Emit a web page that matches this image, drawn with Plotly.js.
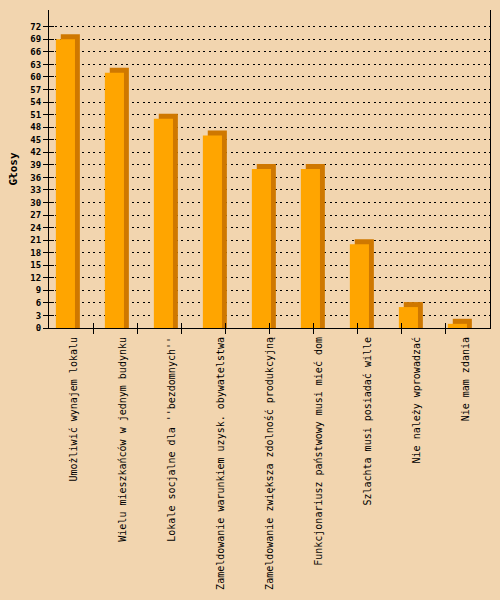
<!DOCTYPE html>
<html>
<head>
<meta charset="utf-8">
<script src="https://cdn.plot.ly/plotly-3.0.1.min.js"></script>
<style>html,body{margin:0;padding:0;background:#F2D5AF;}#chart{width:500px;height:600px;}</style>
</head>
<body>
<div id="chart"></div>
<script>
var categories = [
  "Umożliwić wynajem lokalu",
  "Wielu mieszkańców w jednym budynku",
  "Lokale socjalne dla ''bezdomnych''",
  "Zameldowanie warunkiem uzysk. obywatelstwa",
  "Zameldowanie zwiększa zdolność produkcyjną",
  "Funkcjonariusz państwowy musi mieć dom",
  "Szlachta musi posiadać wille",
  "Nie należy wprowadzać",
  "Nie mam zdania"
];
var votes = [69, 61, 50, 46, 38, 38, 20, 5, 1];
var yTicks = [0,3,6,9,12,15,18,21,24,27,30,33,36,39,42,45,48,51,54,57,60,63,66,69,72];
var yTitle = "Głosy";

var mono = "DejaVu Sans Mono, monospace";
var depth = 1.2; // 3D depth in value units

var shadow = {
  type: "bar", x: categories, y: votes.map(function (v) { return v + depth; }),
  offset: -0.26, width: 0.39,
  marker: {color: "#CF7800", line: {width: 0}},
  hoverinfo: "skip", showlegend: false
};
var front = {
  type: "bar", x: categories, y: votes,
  offset: -0.36, width: 0.39,
  marker: {color: "#FFA500", line: {width: 0}},
  hoverinfo: "skip", showlegend: false
};
var tickOut = {type: "scatter", x: [], y: [], xaxis: "x2", yaxis: "y2", showlegend: false, hoverinfo: "skip"};
var tickIn = {type: "scatter", x: [], y: [], xaxis: "x3", yaxis: "y3", showlegend: false, hoverinfo: "skip"};

var layout = {
  width: 500, height: 600,
  paper_bgcolor: "#F2D5AF", plot_bgcolor: "#F2D5AF",
  margin: {l: 49, r: 10, t: 10, b: 272},
  barmode: "overlay",
  font: {family: mono, color: "#000"},
  xaxis: {
    type: "category", range: [-0.5, 8.5],
    tickangle: -90, ticks: "", showgrid: false, ticklabelstandoff: 4,
    tickfont: {family: mono, size: 10, color: "#000"},
    showline: true, linecolor: "#000", linewidth: 1,
    zeroline: false, fixedrange: true
  },
  yaxis: {
    range: [0, 76], tickvals: yTicks, ticktext: yTicks.map(String),
    ticks: "outside", ticklen: 5, tickcolor: "#000", tickwidth: 1,
    tickfont: {family: mono, size: 9, color: "#000", weight: "bold"},
    showgrid: true, gridcolor: "#000", gridwidth: 1, griddash: "2px,3.5px",
    showline: true, linecolor: "#000", linewidth: 1, mirror: true,
    zeroline: false, fixedrange: true,
    title: {text: yTitle, font: {family: mono, size: 11, color: "#000", weight: "bold"}, standoff: 10}
  },
  xaxis2: {
    overlaying: "x", anchor: "y2", range: [0, 10], tickvals: [1,2,3,4,5,6,7,8,9],
    ticks: "outside", ticklen: 5, tickcolor: "#000", showticklabels: false,
    showgrid: false, zeroline: false, showline: false, fixedrange: true
  },
  yaxis2: {
    overlaying: "y", range: [0, 76], tickvals: yTicks, showticklabels: false,
    ticks: "inside", ticklen: 5, tickcolor: "#000",
    showgrid: false, zeroline: false, showline: false, fixedrange: true
  },
  xaxis3: {
    overlaying: "x", anchor: "y3", range: [0, 10], tickvals: [1,2,3,4,5,6,7,8,9],
    ticks: "inside", ticklen: 5, tickcolor: "#000", showticklabels: false,
    showgrid: false, zeroline: false, showline: false, fixedrange: true
  },
  yaxis3: {
    overlaying: "y", range: [0, 76], tickvals: [], showticklabels: false,
    showgrid: false, zeroline: false, showline: false, fixedrange: true
  }
};

Plotly.newPlot("chart", [shadow, front, tickOut, tickIn], layout, {displayModeBar: false, staticPlot: true});
</script>
</body>
</html>
